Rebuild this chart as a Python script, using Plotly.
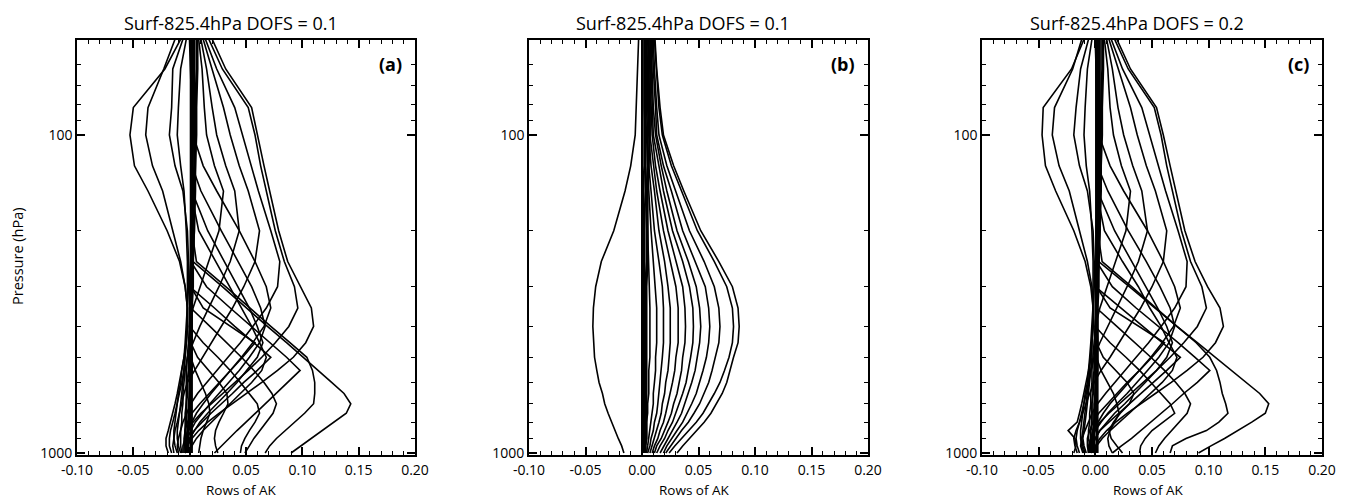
import plotly.graph_objects as go

# Pressure levels (hPa) at which each averaging-kernel row is given
PRESSURE = [50, 62, 82, 100, 125, 150, 200, 250, 300, 350, 400, 450, 500,
            550, 600, 650, 700, 750, 800, 850, 900, 950, 1000]

TITLES = ["Surf-825.4hPa DOFS = 0.1", "Surf-825.4hPa DOFS = 0.1", "Surf-825.4hPa DOFS = 0.2"]
PANEL_LABELS = ["(a)", "(b)", "(c)"]
X_TICKS = [-0.10, -0.05, 0.00, 0.05, 0.10, 0.15, 0.20]
Y_TICKS = [100, 1000]
Y_MINOR = [60, 70, 80, 90, 200, 300, 400, 500, 600, 700, 800, 900]

# ---------------- panel (a) ----------------
a_zero = [
    [0.004,0.004,0.004,0.004,0.004,0.003,0.003,0.003,0.002,0.002,0.002,0.002,0.002,0.002,0.001,0.001,0.001,0.001,0.001,0.001,0.001,0.001,0.001],
    [0.006,0.006,0.005,0.005,0.005,0.004,0.004,0.003,0.003,0.002,0.002,0.002,0.001,0.001,0.001,0.000,0.000,0.000,0.000,-0.001,-0.001,-0.001,-0.001],
    [0.001,0.001,0.001,0.001,0.001,0.001,0.001,0.001,0.000,0.000,0.000,0.000,0.000,0.000,0.000,0.000,0.000,-0.001,-0.001,-0.002,-0.002,-0.002,-0.002],
    [0.007,0.007,0.006,0.006,0.005,0.005,0.004,0.003,0.002,0.001,0.000,0.000,-0.001,-0.001,-0.002,-0.002,-0.003,-0.003,-0.003,-0.004,-0.004,-0.004,-0.003],
    [0.002,0.003,0.003,0.003,0.002,0.002,0.002,0.002,0.002,0.001,0.001,0.001,0.001,0.000,0.000,0.000,-0.001,-0.001,-0.001,-0.002,-0.003,-0.003,-0.003],
    [0.000,0.001,0.002,0.002,0.002,0.002,0.001,0.001,0.001,0.001,0.001,0.002,0.002,0.002,0.002,0.002,0.002,0.002,0.002,0.002,0.002,0.002,0.002],
]
a_left = [
    [-0.008,-0.022,-0.050,-0.053,-0.049,-0.037,-0.020,-0.009,-0.004,-0.002,-0.002,-0.003,-0.005,-0.007,-0.009,-0.011,-0.013,-0.015,-0.017,-0.019,-0.021,-0.021,-0.019],
    [-0.013,-0.023,-0.037,-0.039,-0.033,-0.024,-0.015,-0.008,-0.004,-0.002,-0.002,-0.003,-0.004,-0.005,-0.007,-0.009,-0.011,-0.013,-0.015,-0.017,-0.018,-0.018,-0.016],
    [-0.006,-0.015,-0.016,-0.018,-0.013,-0.006,-0.002,-0.001,-0.001,-0.002,-0.003,-0.004,-0.005,-0.007,-0.008,-0.010,-0.011,-0.012,-0.013,-0.014,-0.014,-0.013,-0.011],
    [-0.003,-0.008,-0.010,-0.011,-0.008,-0.005,-0.003,-0.002,-0.002,-0.002,-0.002,-0.003,-0.004,-0.005,-0.006,-0.007,-0.008,-0.009,-0.010,-0.011,-0.011,-0.010,-0.008],
]
a_upper = [
    [0.020,0.032,0.055,0.060,0.066,0.071,0.079,0.087,0.098,0.108,0.110,0.103,0.092,0.078,0.064,0.050,0.037,0.026,0.016,0.008,0.002,-0.002,-0.004],
    [0.017,0.029,0.052,0.058,0.063,0.068,0.076,0.084,0.093,0.096,0.088,0.076,0.064,0.052,0.040,0.029,0.019,0.010,0.003,-0.001,-0.004,-0.006,-0.006],
    [0.014,0.024,0.040,0.047,0.055,0.061,0.072,0.080,0.078,0.068,0.056,0.045,0.034,0.024,0.015,0.007,0.001,-0.003,-0.006,-0.008,-0.010,-0.011,-0.010],
    [0.012,0.020,0.030,0.036,0.044,0.052,0.062,0.058,0.048,0.038,0.028,0.019,0.011,0.004,-0.002,-0.005,-0.007,-0.009,-0.011,-0.013,-0.014,-0.015,-0.014],
    [0.010,0.015,0.020,0.024,0.032,0.040,0.044,0.036,0.026,0.017,0.009,0.003,-0.002,-0.004,-0.005,-0.006,-0.006,-0.007,-0.007,-0.008,-0.008,-0.008,-0.007],
    [0.008,0.011,0.013,0.015,0.022,0.030,0.026,0.017,0.009,0.003,0.000,-0.001,-0.002,-0.003,-0.003,-0.003,-0.003,-0.004,-0.004,-0.004,-0.004,-0.004,-0.003],
]
a_mid = [
    [0.003,0.003,0.003,0.003,0.012,0.024,0.044,0.058,0.068,0.072,0.066,0.056,0.046,0.036,0.027,0.019,0.012,0.006,0.002,-0.001,-0.003,-0.004,-0.004],
    [0.002,0.002,0.002,0.002,0.002,0.010,0.028,0.043,0.055,0.063,0.067,0.062,0.053,0.044,0.035,0.026,0.018,0.011,0.005,0.001,-0.002,-0.003,-0.003],
    [0.002,0.002,0.002,0.002,0.002,0.002,0.016,0.031,0.043,0.053,0.060,0.065,0.060,0.051,0.042,0.033,0.024,0.016,0.009,0.004,0.000,-0.002,-0.002],
    [0.001,0.001,0.001,0.001,0.001,0.001,0.008,0.023,0.036,0.046,0.055,0.062,0.068,0.064,0.055,0.045,0.036,0.027,0.019,0.012,0.006,0.002,0.000],
]
a_lower = [
    [0.002,0.002,0.002,0.002,0.002,0.002,0.001,0.003,0.029,0.050,0.069,0.086,0.101,0.114,0.126,0.137,0.143,0.139,0.128,0.118,0.108,0.099,0.090],
    [0.003,0.003,0.003,0.003,0.003,0.003,0.002,0.006,0.032,0.053,0.072,0.089,0.104,0.109,0.111,0.111,0.110,0.102,0.093,0.084,0.077,0.071,0.067],
    [0.002,0.002,0.002,0.002,0.002,0.002,0.002,0.001,0.015,0.036,0.055,0.071,0.086,0.098,0.087,0.076,0.067,0.058,0.050,0.042,0.035,0.028,0.022],
    [0.001,0.001,0.001,0.001,0.001,0.001,0.001,0.001,0.000,0.022,0.040,0.057,0.072,0.060,0.048,0.038,0.028,0.019,0.011,0.004,0.000,-0.002,-0.003],
    [0.001,0.001,0.001,0.001,0.001,0.001,0.001,0.001,0.001,0.001,0.018,0.033,0.046,0.057,0.066,0.073,0.077,0.074,0.068,0.062,0.057,0.053,0.049],
    [0.001,0.001,0.001,0.001,0.001,0.001,0.001,0.001,0.001,0.001,0.000,0.012,0.025,0.036,0.045,0.053,0.060,0.062,0.058,0.053,0.049,0.046,0.045],
    [0.001,0.001,0.001,0.001,0.001,0.001,0.001,0.001,0.001,0.001,0.001,0.001,0.007,0.017,0.026,0.033,0.034,0.030,0.026,0.023,0.022,0.023,0.025],
    [0.001,0.001,0.001,0.001,0.001,0.001,0.001,0.001,0.001,0.012,0.037,0.058,0.047,0.036,0.026,0.017,0.009,0.002,-0.002,-0.004,-0.005,-0.005,-0.005],
    [0.001,0.001,0.001,0.001,0.001,0.001,0.001,0.001,0.001,0.001,0.001,0.001,0.001,0.005,0.010,0.014,0.017,0.018,0.015,0.012,0.010,0.009,0.008],
]

# ---------------- panel (b) ----------------
b_zero = [
    [0.000,0.000,0.000,0.000,0.000,0.000,0.000,0.000,0.000,0.000,0.000,0.000,0.000,0.000,0.000,0.000,0.000,0.000,0.000,0.000,0.000,0.000,0.000],
    [0.002,0.002,0.002,0.002,0.002,0.001,0.001,0.001,0.001,0.001,0.001,0.001,0.001,0.001,0.001,0.001,0.001,0.001,0.001,0.001,0.001,0.001,0.001],
    [0.004,0.004,0.003,0.003,0.003,0.003,0.002,0.002,0.002,0.002,0.002,0.002,0.002,0.002,0.002,0.002,0.002,0.002,0.002,0.002,0.002,0.002,0.002],
    [0.006,0.006,0.006,0.005,0.005,0.004,0.004,0.004,0.003,0.003,0.003,0.003,0.003,0.003,0.003,0.003,0.003,0.003,0.003,0.003,0.003,0.003,0.003],
    [0.008,0.008,0.007,0.007,0.006,0.005,0.005,0.005,0.004,0.004,0.004,0.004,0.004,0.004,0.004,0.004,0.004,0.004,0.004,0.004,0.004,0.003,0.003],
]
b_left = [
    [-0.003,-0.004,-0.005,-0.006,-0.010,-0.015,-0.025,-0.036,-0.041,-0.043,-0.0435,-0.043,-0.042,-0.040,-0.038,-0.035,-0.033,-0.030,-0.027,-0.024,-0.021,-0.018,-0.016],
]
b_right = [
    [0.0115,0.013,0.016,0.019,0.028,0.037,0.052,0.068,0.080,0.085,0.086,0.085,0.081,0.078,0.075,0.071,0.066,0.061,0.055,0.048,0.042,0.036,0.031],
    [0.011,0.0125,0.015,0.018,0.026,0.035,0.049,0.064,0.075,0.080,0.081,0.080,0.077,0.073,0.069,0.064,0.059,0.054,0.048,0.041,0.035,0.029,0.024],
    [0.010,0.011,0.013,0.015,0.022,0.030,0.042,0.055,0.064,0.068,0.069,0.068,0.065,0.062,0.059,0.055,0.051,0.046,0.041,0.035,0.030,0.025,0.021],
    [0.009,0.010,0.012,0.013,0.019,0.026,0.036,0.047,0.056,0.059,0.060,0.059,0.057,0.054,0.051,0.048,0.044,0.040,0.036,0.031,0.026,0.022,0.019],
    [0.008,0.009,0.010,0.012,0.017,0.022,0.031,0.041,0.048,0.051,0.052,0.051,0.049,0.047,0.044,0.041,0.038,0.035,0.031,0.027,0.023,0.019,0.016],
    [0.007,0.008,0.009,0.010,0.015,0.019,0.027,0.036,0.042,0.045,0.0455,0.045,0.043,0.041,0.039,0.036,0.033,0.030,0.027,0.023,0.020,0.016,0.013],
    [0.006,0.007,0.008,0.009,0.012,0.016,0.023,0.030,0.036,0.038,0.0385,0.038,0.036,0.035,0.033,0.031,0.028,0.026,0.023,0.020,0.017,0.013,0.011],
    [0.005,0.006,0.007,0.007,0.010,0.013,0.019,0.025,0.030,0.032,0.032,0.032,0.030,0.029,0.027,0.025,0.023,0.021,0.019,0.016,0.014,0.011,0.009],
    [0.004,0.005,0.005,0.006,0.008,0.011,0.015,0.020,0.023,0.025,0.025,0.025,0.024,0.023,0.021,0.020,0.018,0.017,0.015,0.013,0.011,0.009,0.007],
    [0.003,0.004,0.004,0.005,0.006,0.008,0.011,0.015,0.018,0.019,0.019,0.019,0.018,0.017,0.016,0.015,0.014,0.013,0.011,0.010,0.008,0.007,0.005],
    [0.003,0.003,0.003,0.004,0.005,0.006,0.008,0.010,0.012,0.013,0.013,0.013,0.012,0.012,0.011,0.010,0.010,0.009,0.008,0.007,0.006,0.005,0.004],
    [0.002,0.002,0.002,0.003,0.003,0.004,0.005,0.006,0.007,0.007,0.007,0.007,0.007,0.006,0.006,0.006,0.005,0.005,0.004,0.004,0.004,0.003,0.003],
]

# ---------------- panel (c) ----------------
c_zero = [
    [0.004,0.004,0.004,0.004,0.004,0.003,0.003,0.003,0.002,0.002,0.002,0.002,0.002,0.002,0.001,0.001,0.001,0.001,0.001,0.001,0.001,0.001,0.001],
    [0.006,0.006,0.005,0.005,0.005,0.004,0.004,0.003,0.003,0.002,0.002,0.002,0.001,0.001,0.001,0.000,0.000,0.000,0.000,-0.001,-0.001,-0.001,-0.001],
    [0.001,0.001,0.001,0.001,0.001,0.001,0.001,0.001,0.000,0.000,0.000,0.000,0.000,0.000,0.000,0.000,0.000,-0.001,-0.001,-0.002,-0.002,-0.002,-0.002],
    [0.007,0.007,0.006,0.006,0.005,0.005,0.004,0.003,0.002,0.001,0.000,0.000,-0.001,-0.001,-0.002,-0.002,-0.003,-0.003,-0.003,-0.004,-0.004,-0.004,-0.003],
    [0.002,0.003,0.003,0.003,0.002,0.002,0.002,0.002,0.002,0.001,0.001,0.001,0.001,0.000,0.000,0.000,-0.001,-0.001,-0.001,-0.002,-0.003,-0.003,-0.003],
    [0.000,0.001,0.002,0.002,0.002,0.002,0.001,0.001,0.001,0.001,0.001,0.002,0.002,0.002,0.002,0.002,0.002,0.002,0.002,0.002,0.002,0.002,0.002],
]
c_left = [
    [-0.010,-0.021,-0.046,-0.047,-0.044,-0.035,-0.019,-0.009,-0.004,-0.002,-0.002,-0.003,-0.004,-0.006,-0.008,-0.010,-0.012,-0.014,-0.016,-0.024,-0.018,-0.017,-0.019],
    [-0.012,-0.020,-0.036,-0.038,-0.032,-0.023,-0.014,-0.007,-0.003,-0.002,-0.002,-0.003,-0.004,-0.005,-0.006,-0.008,-0.010,-0.012,-0.014,-0.016,-0.017,-0.016,-0.014],
    [-0.006,-0.013,-0.017,-0.019,-0.014,-0.007,-0.002,-0.001,-0.001,-0.002,-0.003,-0.004,-0.005,-0.006,-0.007,-0.009,-0.010,-0.011,-0.012,-0.013,-0.013,-0.012,-0.010],
    [-0.003,-0.007,-0.009,-0.010,-0.008,-0.005,-0.003,-0.002,-0.002,-0.002,-0.002,-0.003,-0.003,-0.004,-0.005,-0.006,-0.007,-0.008,-0.009,-0.010,-0.011,-0.010,-0.008],
]
c_upper = [
    [0.019,0.031,0.054,0.060,0.066,0.071,0.079,0.088,0.099,0.110,0.113,0.106,0.095,0.081,0.067,0.053,0.040,0.028,0.018,0.010,0.004,0.000,-0.002],
    [0.017,0.029,0.052,0.058,0.063,0.068,0.076,0.084,0.094,0.098,0.090,0.078,0.066,0.054,0.042,0.031,0.021,0.012,0.004,-0.001,-0.004,-0.006,-0.006],
    [0.014,0.024,0.041,0.048,0.056,0.062,0.073,0.081,0.080,0.070,0.058,0.047,0.036,0.026,0.017,0.009,0.002,-0.003,-0.006,-0.009,-0.012,-0.013,-0.011],
    [0.012,0.020,0.031,0.037,0.045,0.053,0.063,0.060,0.050,0.040,0.030,0.021,0.013,0.005,-0.001,-0.005,-0.008,-0.011,-0.014,-0.017,-0.019,-0.018,-0.016],
    [0.010,0.015,0.020,0.025,0.033,0.041,0.046,0.038,0.028,0.019,0.011,0.004,-0.001,-0.004,-0.006,-0.007,-0.008,-0.009,-0.010,-0.011,-0.012,-0.011,-0.009],
    [0.008,0.011,0.013,0.016,0.023,0.031,0.027,0.018,0.010,0.004,0.000,-0.001,-0.002,-0.003,-0.003,-0.004,-0.004,-0.005,-0.005,-0.006,-0.006,-0.005,-0.004],
]
c_mid = [
    [0.003,0.003,0.003,0.003,0.013,0.025,0.046,0.060,0.070,0.075,0.069,0.059,0.049,0.039,0.029,0.021,0.013,0.007,0.002,-0.002,-0.004,-0.005,-0.005],
    [0.002,0.002,0.002,0.002,0.002,0.011,0.029,0.045,0.057,0.066,0.070,0.065,0.056,0.046,0.037,0.028,0.019,0.011,0.005,0.000,-0.003,-0.004,-0.004],
    [0.002,0.002,0.002,0.002,0.002,0.002,0.017,0.032,0.045,0.055,0.063,0.068,0.063,0.054,0.044,0.035,0.026,0.017,0.010,0.004,0.000,-0.003,-0.003],
    [0.001,0.001,0.001,0.001,0.001,0.001,0.008,0.024,0.038,0.048,0.058,0.065,0.072,0.068,0.059,0.049,0.039,0.030,0.021,0.013,0.006,0.001,-0.001],
]
c_lower = [
    [0.002,0.002,0.002,0.002,0.002,0.002,0.001,0.003,0.030,0.052,0.072,0.090,0.106,0.120,0.133,0.145,0.153,0.150,0.138,0.126,0.114,0.102,0.091],
    [0.003,0.003,0.003,0.003,0.003,0.003,0.002,0.006,0.032,0.053,0.072,0.089,0.101,0.107,0.110,0.112,0.115,0.117,0.109,0.098,0.080,0.068,0.066],
    [0.002,0.002,0.002,0.002,0.002,0.002,0.002,0.001,0.015,0.036,0.056,0.073,0.088,0.101,0.090,0.078,0.068,0.058,0.049,0.040,0.032,0.023,0.015],
    [0.001,0.001,0.001,0.001,0.001,0.001,0.001,0.001,0.000,0.023,0.042,0.059,0.075,0.063,0.051,0.040,0.030,0.020,0.012,0.004,0.000,-0.003,-0.004],
    [0.001,0.001,0.001,0.001,0.001,0.001,0.001,0.001,0.001,0.001,0.019,0.035,0.049,0.061,0.071,0.079,0.084,0.081,0.074,0.067,0.061,0.056,0.053],
    [0.001,0.001,0.001,0.001,0.001,0.001,0.001,0.001,0.001,0.001,0.000,0.013,0.027,0.039,0.049,0.058,0.066,0.070,0.060,0.050,0.044,0.040,0.039],
    [0.001,0.001,0.001,0.001,0.001,0.001,0.001,0.001,0.001,0.001,0.001,0.001,0.007,0.018,0.028,0.034,0.030,0.022,0.016,0.012,0.014,0.019,0.024],
    [0.001,0.001,0.001,0.001,0.001,0.001,0.001,0.001,0.001,0.013,0.039,0.061,0.050,0.039,0.028,0.019,0.010,0.003,-0.002,-0.005,-0.007,-0.007,-0.006],
    [0.001,0.001,0.001,0.001,0.001,0.001,0.001,0.001,0.001,0.001,0.001,0.001,0.001,0.005,0.011,0.016,0.019,0.021,0.017,0.013,0.011,0.012,0.015],
]

PANELS = [
    [(a_zero, 2.0), (a_left, 1.6), (a_upper, 1.6), (a_mid, 1.6), (a_lower, 1.6)],
    [(b_zero, 2.0), (b_left, 1.6), (b_right, 1.6)],
    [(c_zero, 2.0), (c_left, 1.6), (c_upper, 1.6), (c_mid, 1.6), (c_lower, 1.6)],
]

W, H = 1349, 499
OFF = 8  # the page body adds an 8 px margin; positions below are screen pixels
X_PIX = [(77, 415), (529, 868), (982, 1322)]
Y_PIX = (40, 455)
FONT = "Open Sans, Liberation Sans, sans-serif"


def px(x):
    return (x - OFF) / W


def py(y):
    return 1 - (y - OFF) / H


fig = go.Figure()
for i, groups in enumerate(PANELS):
    xa = "x" if i == 0 else f"x{i+1}"
    ya = "y" if i == 0 else f"y{i+1}"
    for rows, lw in groups:
        for row in rows:
            fig.add_trace(go.Scatter(x=row, y=PRESSURE, mode="lines",
                                     line=dict(color="black", width=lw),
                                     xaxis=xa, yaxis=ya, showlegend=False,
                                     hoverinfo="skip"))

layout = dict(width=W, height=H, margin=dict(l=0, r=0, t=0, b=0),
              paper_bgcolor="white", plot_bgcolor="white", showlegend=False,
              font=dict(family=FONT, color="black"))
y_dom = [py(Y_PIX[1]), py(Y_PIX[0])]
annotations = []
for i in range(3):
    sfx = "" if i == 0 else str(i + 1)
    x0, x1 = X_PIX[i]
    layout["xaxis" + sfx] = dict(
        domain=[px(x0), px(x1)], anchor="y" + sfx, range=[-0.10, 0.20],
        tickvals=X_TICKS, ticktext=[f"{v:.2f}" for v in X_TICKS],
        ticks="inside", ticklen=8, tickwidth=1.5, tickcolor="black",
        showline=True, linecolor="black", linewidth=1.6, mirror="ticks",
        showgrid=False, zeroline=False, automargin=False, ticklabelstandoff=1,
        tickfont=dict(size=14, family=FONT, color="black"),
        minor=dict(ticks="inside", ticklen=4, tickwidth=1.2, tickcolor="black",
                   dtick=0.01, tick0=-0.10, showgrid=False),
    )
    layout["yaxis" + sfx] = dict(
        domain=y_dom, anchor="x" + sfx, type="log", range=[3.0063, 1.7013],
        tickvals=Y_TICKS, ticktext=[str(v) for v in Y_TICKS],
        ticks="inside", ticklen=8, tickwidth=1.5, tickcolor="black",
        showline=True, linecolor="black", linewidth=1.6, mirror="ticks",
        showgrid=False, zeroline=False, automargin=False,
        tickfont=dict(size=14, family=FONT, color="black"),
        minor=dict(ticks="inside", ticklen=4, tickwidth=1.2, tickcolor="black",
                   tickvals=Y_MINOR, showgrid=False),
    )
    cx = (x0 + x1) / 2
    annotations.append(dict(text=TITLES[i], x=px(cx - 15), y=py(23),
                            xref="paper", yref="paper", showarrow=False,
                            xanchor="center", yanchor="middle",
                            font=dict(size=18, family=FONT, color="black")))
    annotations.append(dict(text="Rows of AK", x=px(cx - 4), y=py(490),
                            xref="paper", yref="paper", showarrow=False,
                            xanchor="center", yanchor="middle",
                            font=dict(size=13.5, family=FONT, color="black")))
    annotations.append(dict(text="<b>" + PANEL_LABELS[i] + "</b>", x=px(x1 - 11),
                            y=py(64), xref="paper", yref="paper",
                            showarrow=False, xanchor="right", yanchor="middle",
                            font=dict(size=18, family=FONT, color="black")))
annotations.append(dict(text="Pressure (hPa)", x=px(17), y=py(256),
                        xref="paper", yref="paper", showarrow=False,
                        textangle=-90, xanchor="center", yanchor="middle",
                        font=dict(size=14.5, family=FONT, color="black")))
layout["annotations"] = annotations
fig.update_layout(**layout)
fig.write_html("out.html")
